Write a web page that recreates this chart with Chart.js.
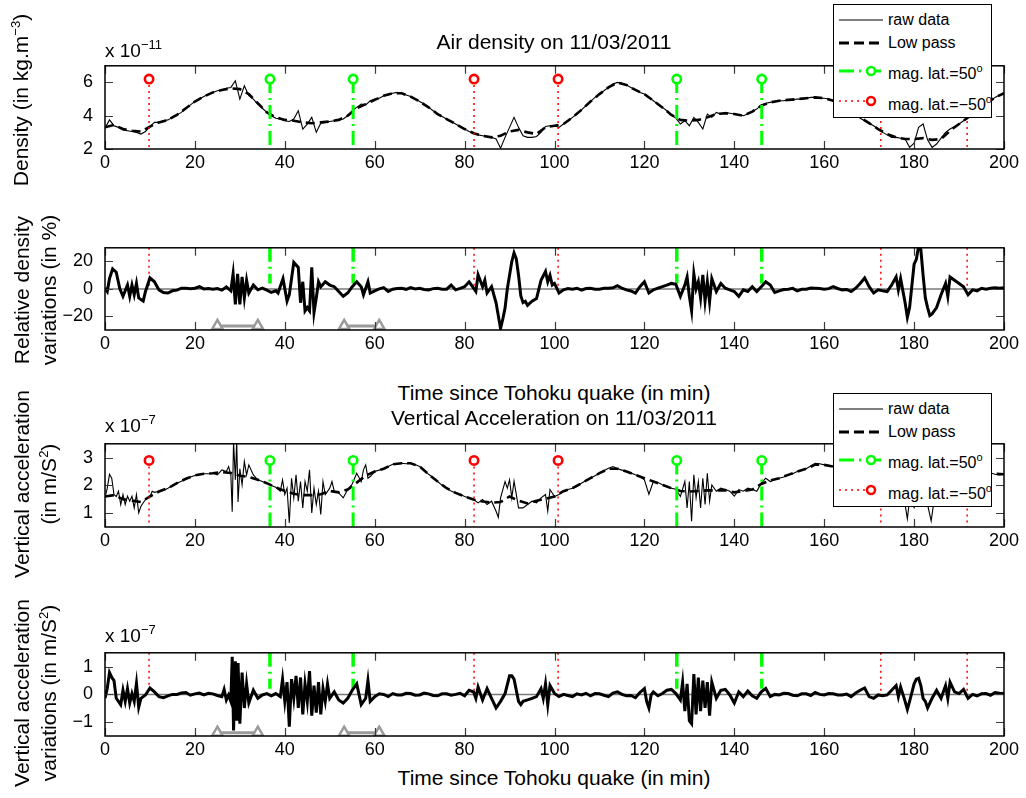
<!DOCTYPE html>
<html><head><meta charset="utf-8">
<script src="https://cdn.jsdelivr.net/npm/chart.js@4.4.1/dist/chart.umd.min.js"></script>
<style>
body{margin:0;width:1026px;height:798px;background:#fff;position:relative;overflow:hidden;font-family:"Liberation Sans",Arial,sans-serif;color:#000;}
canvas{position:absolute;left:0;}
.t{position:absolute;white-space:nowrap;font-size:21px;line-height:24px;transform:translateX(-50%);}
.ex{position:absolute;white-space:nowrap;font-size:19px;line-height:20px;}
.ex sup,.yl sup,.lt sup{font-size:13px;line-height:0;vertical-align:baseline;position:relative;top:-8px;}
.yl{position:absolute;white-space:nowrap;font-size:21px;line-height:27px;text-align:center;transform:translate(-50%,-50%) rotate(-90deg);}
.leg{position:absolute;left:833px;width:159px;height:114px;box-sizing:border-box;border:1.3px solid #000;background:#fff;z-index:5;}
.lt{position:absolute;left:54px;font-size:16px;line-height:18px;white-space:nowrap;}
.lt sup{font-size:11px;top:-7px;}
</style>
</head><body>
<script>
// ---------- data ----------
const minuteTicks = [0,20,40,60,80,100,120,140,160,180,200];
const densityTicks = [2,4,6];
const relDensityTicks = [-20,0,20];
const accelTicks = [1,2,3];
const accelVarTicks = [-1,0,1];

// magnetic latitude crossings (minutes)
const northCross = [36.7,55.2,127.2,146.1];          // mag. lat. = 50°
const southCross = [9.8,82.1,100.8,172.6,191.8];     // mag. lat. = -50°
// grey windows (start, end) in minutes
const windowsMin = [[25,34],[53.2,61]];

// Air density, raw, 1-minute steps from t=0 (x 1e-11 kg/m3)
const densityRaw = [
3.25,3.75,3.4,3.3,3.15,3.1,3.05,3.0,2.9,3.05,
3.35,3.6,3.6,3.7,3.75,3.9,4.05,4.2,4.45,4.65,
4.85,5.0,5.15,5.3,5.4,5.5,5.55,5.65,5.7,6.1,
5.0,5.8,5.2,5.0,4.7,4.45,4.2,4.0,3.85,3.8,
3.7,3.65,3.8,4.3,3.2,3.5,3.9,3.0,3.55,3.6,
3.65,3.7,3.75,3.8,4.0,4.3,4.5,4.7,4.65,4.9,
5.0,5.05,5.2,5.25,5.35,5.4,5.35,5.25,5.15,5.0,
4.85,4.7,4.5,4.3,4.1,3.95,3.8,3.65,3.5,3.35,
3.2,3.05,2.95,2.85,2.8,2.75,2.7,2.6,2.05,2.7,
3.3,3.9,3.3,2.8,2.7,2.7,2.75,3.0,3.35,3.4,
3.4,3.3,3.5,3.7,3.9,4.1,4.35,4.6,4.85,5.1,
5.3,5.5,5.7,5.9,6.0,5.95,5.85,5.7,5.55,5.4,
5.3,5.1,4.9,4.7,4.5,4.3,4.05,3.85,3.5,3.7,
3.4,3.9,3.6,3.2,4.1,3.9,4.2,4.1,4.2,4.15,
4.1,4.05,4.0,4.1,4.25,4.4,4.65,4.75,4.8,4.85,
4.9,4.9,4.95,4.95,5.0,5.0,5.05,5.1,5.1,5.05,
5.05,5.0,4.9,4.8,4.65,4.5,4.3,4.1,3.85,3.7,
3.55,3.4,3.2,3.0,2.85,2.7,2.7,2.65,2.6,2.1,
2.35,3.3,3.5,2.55,2.1,2.3,2.65,3.0,3.2,3.35,
3.5,3.7,3.9,4.1,4.3,4.5,4.7,4.9,5.1,5.25,
5.35];

// Air density, low pass, 2-minute steps from t=0
const densityLow = [
3.3,3.45,3.2,3.1,3.05,3.35,3.6,3.75,4.05,4.45,
4.85,5.15,5.4,5.55,5.65,5.6,5.3,4.75,4.2,3.9,
3.75,3.7,3.6,3.55,3.6,3.65,3.75,4.0,4.45,4.7,
4.95,5.2,5.35,5.35,5.15,4.85,4.5,4.1,3.8,3.5,
3.2,2.95,2.8,2.7,2.8,3.05,3.15,3.0,2.9,3.3,
3.4,3.5,3.9,4.35,4.85,5.3,5.7,6.0,5.85,5.55,
5.3,4.9,4.5,4.05,3.75,3.7,3.75,3.9,4.1,4.15,
4.1,4.0,4.25,4.6,4.8,4.9,4.95,5.0,5.05,5.1,
5.05,4.9,4.65,4.3,3.9,3.55,3.2,2.9,2.7,2.6,
2.6,2.65,2.55,2.6,3.1,3.5,3.9,4.3,4.7,5.1,
5.35];

// Relative density variations (%), [minute, value]
const relDensity = [
[0,0.5],[0.5,-1.9],[1,7.5],[1.7,14.6],[2.5,12.2],[3.3,0],[4,-5.4],[5,2.8],[5.5,-5.4],[6,2.8],
[6.5,-4.2],[7,4],[7.5,-6.6],[8,-7.8],[8.5,-8.9],[9,-1.9],[10,8],[11,5.2],[12,-0.7],[13,-2.6],
[14,-3],[15,-1.4],[16,-0.9],[17,0.5],[18,0.5],[19,0.2],[20,0.5],[21,1.6],[22,0],[23,0.3],
[24,-0.2],[25,0.2],[26,-0.9],[27,1.4],[28,-1.4],[28.5,11],[29,-11.3],[29.5,11],[30,-11.3],[30.5,8.7],
[31,-6.6],[31.5,6.3],[32,-3],[33,2.8],[34,-0.7],[35,0.5],[36,-0.9],[37,-2.6],[38,-1.4],[38.5,-3],
[39.6,7.5],[40.5,-8.9],[41,-4.2],[42,19.3],[43,15.7],[43.5,-10.1],[44,5.2],[44.5,-16],[45,-13.6],[45.5,-16],
[46,15.7],[46.5,-17.2],[47,-6.6],[47.5,5.2],[48,1.6],[49,5.2],[50,2.8],[51,1.6],[52,-1.9],[53,-5.4],
[54,-3],[55,1.6],[56,5.2],[57,1.6],[57.5,-4.2],[58.5,5.2],[59,-3],[60,-1.4],[61,0],[62,0.9],
[63,-1.9],[64,-0.2],[65,0.3],[66,0.5],[67,-0.3],[68,0.9],[69,0],[70,0.5],[71,-0.4],[72,-0.7],
[73,0.2],[74,0.5],[75,-0.3],[76,-0.2],[77,2.8],[78,-0.7],[79,0.4],[80,1.6],[81,5.2],[82,0.5],
[82.5,-1.9],[83,10.3],[84,1.6],[84.5,6.3],[85,-3],[86,1.6],[87,-10.1],[88,-28.9],[88.5,-22],[89,-14],
[89.5,0],[90,10],[90.5,20],[91,26.3],[91.5,22],[92,10],[92.5,-5],[93,-10],[93.5,-9],[94,-12],
[95,-9],[96,-7],[97,6.3],[98,12.7],[98.5,5.2],[99,9.9],[99.5,2.8],[100,4],[101,-3],[102,-0.7],
[103,0.2],[104,-0.2],[105,0.5],[106,-0.9],[107,0.3],[108,0.5],[109,-0.3],[110,-0.2],[111,0.4],[112,0.5],
[113,0.8],[114,2.4],[115,0.5],[116,-0.7],[117,-1.5],[118,-3],[119,1.6],[120,5.2],[121,-3],[122,-0.7],
[123,0.5],[124,1.6],[125,2.8],[126,4],[127,3.3],[128,-5.4],[129,2.8],[129.5,8.7],[130,-5.4],[130.5,-16],
[131,11],[131.5,0],[132,5.2],[132.5,-6.6],[133,10.3],[133.5,-8.9],[134,5.2],[134.5,-9.4],[135,7.5],[136,-1.9],
[137,4],[138,0.5],[139,-0.7],[140,-1.9],[141,-5.4],[142,-0.7],[143,-1.9],[144,1.6],[145,-1.9],[146,1.6],
[147,5.2],[148,2.8],[149,-2.6],[150,-1.4],[151,-0.5],[152,-0.2],[153,0.4],[154,-1.4],[155,-0.3],[156,-0.2],
[157,0.6],[158,0.5],[159,0.3],[160,-0.2],[161,0.2],[162,1.6],[163,0.3],[164,-0.7],[165,-0.4],[166,-1.9],
[167,0.5],[168,4],[169,8],[170,1.6],[171,-3],[172,-0.7],[173,-1.4],[174,-1.9],[175,2.8],[176,8.7],
[176.5,-0.7],[177,7.5],[178,-10.1],[178.5,-20.7],[179,-13.6],[180,18],[180.5,21.6],[181,31],[181.5,28.7],[182,10],
[182.5,-6.6],[183,-13.6],[183.5,-19.5],[184,-18.3],[185,-13.6],[186,-4.2],[187,4],[187.5,-5.4],[188,8.7],[189,6.3],
[190,4],[191,1.6],[192,-4.2],[193,-0.7],[194,-1.4],[195,0.5],[196,-0.2],[197,0.5],[198,0.9],[199,0.5],[200,0.9]];

// Vertical acceleration, raw (x 1e-7 m/s2), [minute, value]
const accelRaw = [
[0,1.55],[0.5,1.9],[1,2.4],[1.5,2.26],[2,1.67],[2.5,1.6],[3,1.79],[3.5,1.31],[4,1.67],[4.5,1.31],
[5,1.61],[5.5,1.43],[6,1.61],[6.5,1.19],[7,1.67],[7.5,1.01],[8,1.25],[9,1.49],[10,1.6],[10.5,1.79],
[11,1.75],[12,1.79],[13,1.82],[14,1.9],[15,2.0],[16,2.08],[17,2.15],[18,2.24],[19,2.3],[20,2.36],
[21,2.4],[22,2.42],[23,2.42],[24,2.44],[25,2.38],[26,2.56],[27,2.5],[27.5,2.68],[28,2.38],[28.3,1.05],
[28.6,3.6],[29,2.2],[29.3,3.6],[29.6,1.4],[30,2.6],[30.5,2.02],[31,2.86],[31.5,2.38],[32,2.74],[33,2.38],
[34,2.2],[35,2.14],[36,2.08],[37,2.0],[38,1.93],[39,1.79],[39.5,2.2],[40,1.67],[40.5,1.9],[41,0.65],
[41.5,2.26],[42,1.55],[42.5,2.38],[43,1.43],[43.5,2.14],[44,1.19],[44.5,2.14],[45,1.79],[45.5,2.56],[46,1.01],
[46.5,1.9],[47,1.31],[47.5,1.79],[48,0.95],[48.5,2.14],[49,1.67],[50,1.9],[50.5,2.14],[51,1.79],[52,1.73],
[53,1.55],[54,1.85],[55,2.05],[56,2.44],[57,2.14],[57.5,2.56],[58,2.74],[58.5,2.26],[59,2.32],[60,2.5],
[61,2.55],[62,2.6],[63,2.68],[64,2.76],[65,2.78],[66,2.8],[67,2.78],[68,2.8],[69,2.75],[70,2.68],
[71,2.55],[72,2.4],[73,2.28],[74,2.14],[75,2.0],[76,1.9],[77,1.8],[78,1.73],[79,1.68],[80,1.6],
[81,1.55],[82,1.49],[83,1.37],[84,1.49],[85,1.31],[86,1.43],[87,1.07],[87.5,0.85],[88,1.55],[89,2.14],
[89.5,1.9],[90,2.2],[90.5,1.55],[91,2.15],[92,1.19],[93,1.19],[94,1.31],[95,1.43],[96,1.37],[97,1.55],
[98,1.67],[98.5,1.07],[99,1.85],[100,1.6],[101,1.67],[102,1.79],[103,1.85],[104,1.9],[105,1.96],[106,2.08],
[107,2.18],[108,2.26],[109,2.35],[110,2.44],[111,2.53],[112,2.62],[113,2.68],[114,2.6],[115,2.55],[116,2.5],
[117,2.45],[118,2.38],[119,2.32],[120,2.2],[121,1.68],[122,2.14],[123,2.1],[124,2.02],[125,1.96],[126,1.9],
[127,1.86],[128,1.6],[129,2.14],[129.5,1.19],[130,2.14],[130.5,0.71],[131,2.38],[131.5,1.55],[132,2.14],[132.5,1.19],
[133,2.26],[133.5,1.31],[134,2.44],[134.5,1.43],[135,2.02],[136,1.79],[137,1.9],[138,1.85],[139,1.79],[140,1.61],
[141,1.85],[142,1.79],[143,1.9],[144,1.85],[145,1.79],[146,2.08],[147,2.26],[148,2.14],[149,2.2],[150,2.26],
[151,2.3],[152,2.38],[153,2.42],[154,2.5],[155,2.55],[156,2.6],[157,2.7],[158,2.8],[159,2.78],[160,2.74],
[161,2.72],[162,2.68],[164,2.7],[166,2.6],[168,2.5],[170,2.3],[172,2.0],[174,1.8],[176,1.6],[177,1.5],
[178,1.3],[178.5,0.8],[179,1.5],[180,1.2],[181,2.0],[182,1.6],[183,1.3],[183.8,0.72],[184.3,1.3],[185,1.6],
[187,2.0],[189,2.2],[191,2.5],[193,2.6],[195,2.55],[197,2.45],[198,2.4],[199,2.38],[200,2.4]];

// Vertical acceleration, low pass, 2-minute steps from t=0
const accelLow = [
1.6,1.65,1.5,1.45,1.4,1.6,1.78,1.9,2.08,2.24,
2.36,2.42,2.44,2.48,2.45,2.35,2.3,2.2,2.08,1.93,
1.8,1.7,1.65,1.65,1.68,1.8,1.75,1.85,2.1,2.35,
2.5,2.6,2.76,2.8,2.8,2.68,2.4,2.14,1.9,1.73,
1.6,1.49,1.42,1.38,1.4,1.6,1.45,1.35,1.45,1.52,
1.6,1.79,1.9,2.08,2.26,2.44,2.6,2.6,2.5,2.38,
2.26,2.14,2.02,1.9,1.8,1.78,1.8,1.82,1.82,1.83,
1.75,1.8,1.85,2.05,2.18,2.26,2.38,2.5,2.6,2.75,
2.74,2.68,2.65,2.58,2.48,2.3,2.05,1.8,1.6,1.45,
1.5,1.55,1.4,1.7,2.1,2.35,2.55,2.58,2.5,2.42,
2.4];

// Vertical acceleration variations (x 1e-7 m/s2), [minute, value]
const accelVar = [
[0,-0.14],[0.5,0.21],[1,0.79],[1.5,0.61],[2,0.5],[2.5,-0.14],[3,-0.25],[3.5,-0.37],[4,0.15],[4.5,-0.25],
[5,0.21],[5.5,-0.31],[6,0.03],[6.5,-0.25],[7,0.4],[7.5,-0.46],[8,-0.14],[9,-0.02],[10,0.23],[11,0.09],
[12,-0.08],[13,-0.12],[14,-0.05],[15,0],[16,0],[17,0.05],[18,0.07],[19,-0.03],[20,0.02],[21,0.05],
[22,-0.02],[23,0.04],[24,0.02],[25,-0.04],[26,-0.08],[26.5,0.18],[27,-0.2],[27.5,-0.02],[28,-0.25],[28.3,1.36],
[28.6,-1.3],[29,1.19],[29.3,-0.95],[29.6,1.13],[30,-1.06],[30.5,0.79],[31,-0.49],[31.5,0.38],[32,-0.31],[33,0.15],
[34,-0.14],[35,-0.02],[36,0.03],[37,-0.05],[38,0.03],[39,-0.08],[39.5,0.55],[40,-0.25],[40.5,0.44],[41,-1.16],
[41.5,0.55],[42,-0.14],[42.5,0.67],[43,-0.49],[43.5,0.61],[44,-0.72],[44.5,0.38],[45,-0.25],[45.5,0.84],[46,-0.77],
[46.5,0.32],[47,-0.66],[47.5,0.44],[48,-0.72],[48.5,0.21],[49,-0.25],[49.5,0.38],[50,-0.14],[51,0.09],[52,-0.2],
[53,-0.31],[54,-0.14],[55,0.15],[56,0.38],[57,-0.37],[58,-0.14],[58.5,0.5],[59,-0.25],[60,-0.08],[61,0.02],
[62,0],[63,-0.08],[64,0.03],[65,-0.02],[66,-0.02],[67,0.04],[68,0.03],[69,-0.03],[70,-0.02],[71,0.05],
[72,0.02],[73,-0.04],[74,-0.05],[75,0.02],[76,0.02],[77,-0.03],[78,0],[79,0.04],[80,-0.05],[81,0.15],
[82,0.09],[82.5,-0.14],[83,0.27],[84,-0.2],[85,0.21],[86,-0.14],[87,-0.49],[88,-0.25],[89,0.03],[90,0.67],
[90.5,0.67],[91,0.55],[92,-0.25],[92.5,-0.37],[93,-0.25],[94,-0.2],[95,-0.14],[96,-0.08],[97,0.21],[97.5,-0.14],
[98,0.38],[98.5,-0.37],[99,0.32],[100,0.03],[101,-0.08],[102,0],[103,-0.04],[104,-0.08],[105,0.02],[106,-0.02],
[107,0.04],[108,-0.05],[109,0.03],[110,0.02],[111,-0.03],[112,-0.08],[113,0.05],[114,0.09],[115,0],[116,-0.05],
[117,-0.04],[118,-0.12],[119,0.07],[120,0.21],[120.5,-0.25],[121,-0.49],[121.5,-0.02],[122,0.09],[123,-0.05],[124,0.03],
[125,0.15],[126,0.18],[127,0.03],[128,-0.2],[128.5,0.44],[129,-0.6],[129.5,0.38],[130,-0.95],[130.5,-1.06],[131,0.73],
[131.5,-0.72],[132,0.61],[132.5,-0.6],[133,0.5],[133.5,-0.49],[134,0.44],[134.5,-0.77],[135,0.44],[136,-0.14],[137,0.15],
[138,0.18],[139,-0.02],[140,-0.31],[141,0.09],[142,-0.08],[143,0.12],[144,-0.05],[145,-0.14],[146,0.09],[147,0.21],
[148,-0.08],[149,0],[150,-0.02],[151,0.04],[152,0.03],[153,-0.03],[154,-0.05],[155,0.02],[156,0.02],[157,-0.04],
[158,0.07],[159,0],[160,-0.02],[161,0.03],[162,0.02],[163,-0.02],[164,-0.02],[165,0.01],[166,-0.08],[167,0.05],
[168,0.15],[169,0.23],[170,-0.08],[171,-0.14],[172,-0.02],[173,-0.05],[174,-0.02],[175,0.15],[176,0.32],[176.5,-0.08],
[177,0.27],[178,-0.25],[178.5,-0.54],[179,-0.25],[180,0.38],[180.5,0.55],[181,0.58],[181.5,0.32],[182,-0.14],[182.5,-0.25],
[183,-0.49],[184,-0.14],[185,0.15],[186,-0.14],[187,0.32],[187.5,-0.14],[188,0.44],[189,0.09],[190,0.03],[191,0.18],
[192,-0.14],[193,0],[194,-0.05],[195,0.02],[196,0.03],[197,-0.03],[198,0.07],[199,0.04],[200,0.03]];

// ---------- helpers ----------
const FONT = "'Liberation Sans', Arial, Helvetica, sans-serif";
const RED = '#ff0000', GREEN = '#00ff00', GREY = '#9a9a9a';
const pairs = a => a.map(p => ({x:p[0], y:p[1]}));
const stepped = (a, step) => a.map((v,i) => ({x:i*step, y:v}));
function vlines(times, yTop, yBot){
  const out = [];
  times.forEach(t => { out.push({x:t,y:yTop},{x:t,y:yBot},{x:t,y:null}); });
  return out;
}
function markers(times, y){ return times.map(t => ({x:t, y:y})); }
function windowPts(wins, y){
  const out = [];
  wins.forEach(w => { out.push({x:w[0],y:y},{x:w[1],y:y},{x:w[1],y:null}); });
  return out;
}

const framePlugin = {
  id:'frame',
  afterDatasetsDraw(chart){
    const {ctx, chartArea:a, scales:{x, y}} = chart;
    const L = 8;
    ctx.save();
    ctx.strokeStyle = '#3a3a3a'; ctx.lineWidth = 1.2;
    ctx.beginPath();
    x.ticks.forEach(t => { const p = Math.round(x.getPixelForValue(t.value))+0.5;
      ctx.moveTo(p,a.bottom); ctx.lineTo(p,a.bottom-L); ctx.moveTo(p,a.top); ctx.lineTo(p,a.top+L); });
    y.ticks.forEach(t => { const p = Math.round(y.getPixelForValue(t.value))+0.5;
      ctx.moveTo(a.left,p); ctx.lineTo(a.left+L,p); ctx.moveTo(a.right,p); ctx.lineTo(a.right-L,p); });
    ctx.stroke();
    ctx.strokeStyle = '#000'; ctx.lineWidth = 1.5;
    ctx.strokeRect(a.left, a.top, a.right-a.left, a.bottom-a.top);
    ctx.restore();
  }
};

function makePanel(top, plotH, yMin, yMax, yTicks, datasets){
  const PT = 20, XH = 30;
  const cv = document.createElement('canvas');
  cv.width = 1026; cv.height = PT + plotH + XH;
  cv.style.top = (top - PT) + 'px';
  document.body.appendChild(cv);
  new Chart(cv, {
    type:'line',
    data:{datasets},
    plugins:[framePlugin],
    options:{
      responsive:false, animation:false, events:[],
      parsing:true, normalized:true,
      layout:{padding:{top:PT, right:22, left:0, bottom:0}},
      plugins:{legend:{display:false}, tooltip:{enabled:false}},
      elements:{line:{tension:0}, point:{radius:0}},
      scales:{
        x:{type:'linear', min:0, max:200,
          afterBuildTicks: s => { s.ticks = minuteTicks.map(v => ({value:v})); },
          afterFit: s => { s.height = XH; },
          grid:{display:false, drawTicks:false}, border:{display:false},
          ticks:{padding:3, color:'#000', font:{family:FONT, size:18}, maxRotation:0, autoSkip:false}},
        y:{type:'linear', min:yMin, max:yMax,
          afterBuildTicks: s => { s.ticks = yTicks.map(v => ({value:v})); },
          afterFit: s => { s.width = 105; },
          grid:{display:false, drawTicks:false}, border:{display:false},
          ticks:{padding:12, color:'#000', font:{family:FONT, size:18}, callback: v => String(v).replace('-', '\u2212')}}
      }
    }
  });
}

function passDatasets(markY, yBot){
  return [
    {data:markers(southCross, markY), showLine:false, pointRadius:4.2, pointBorderWidth:2.6, pointBorderColor:RED, pointBackgroundColor:'#fff'},
    {data:markers(northCross, markY), showLine:false, pointRadius:4.2, pointBorderWidth:2.6, pointBorderColor:GREEN, pointBackgroundColor:'#fff'},
    {data:vlines(southCross, markY, yBot), borderColor:RED, borderWidth:1.5, borderDash:[2,4], spanGaps:false},
    {data:vlines(northCross, markY, yBot), borderColor:GREEN, borderWidth:3, borderDash:[14,5,2,5], spanGaps:false}
  ];
}

// Panel 1: density
makePanel(63, 86, 2, 7, densityTicks, [
  ...passDatasets(6.2, 2),
  {data:stepped(densityLow, 2), borderColor:'#000', borderWidth:2.6, borderDash:[9,5]},
  {data:stepped(densityRaw, 1), borderColor:'#000', borderWidth:1.1}
]);

// Panel 2: relative density variations
makePanel(245, 85, -30, 30, relDensityTicks, [
  {data:windowPts(windowsMin, -27), borderColor:GREY, borderWidth:3, spanGaps:false,
   pointStyle:'triangle', pointRadius:6, pointBorderWidth:2.5, pointBorderColor:GREY, pointBackgroundColor:'#fff'},
  {data:pairs(relDensity), borderColor:'#000', borderWidth:3},
  {data:vlines(southCross, 30, 0), borderColor:RED, borderWidth:1.5, borderDash:[2,4], spanGaps:false},
  {data:vlines(northCross, 30, 4), borderColor:GREEN, borderWidth:3.5, borderDash:[14,5,2,5], spanGaps:false},
  {data:[{x:0,y:0},{x:200,y:0}], borderColor:'#7a7a7a', borderWidth:1.5}
]);

// Panel 3: vertical acceleration
makePanel(441, 86, 0.5, 3.5, accelTicks, [
  ...passDatasets(2.9, 0.5),
  {data:stepped(accelLow, 2), borderColor:'#000', borderWidth:2.6, borderDash:[9,5]},
  {data:pairs(accelRaw), borderColor:'#000', borderWidth:1.1}
]);

// Panel 4: vertical acceleration variations
makePanel(650, 86, -1.5, 1.5, accelVarTicks, [
  {data:windowPts(windowsMin, -1.38), borderColor:GREY, borderWidth:3, spanGaps:false,
   pointStyle:'triangle', pointRadius:6, pointBorderWidth:2.5, pointBorderColor:GREY, pointBackgroundColor:'#fff'},
  {data:pairs(accelVar), borderColor:'#000', borderWidth:3},
  {data:vlines(southCross, 1.5, 0), borderColor:RED, borderWidth:1.5, borderDash:[2,4], spanGaps:false},
  {data:vlines(northCross, 1.5, 0.2), borderColor:GREEN, borderWidth:3.5, borderDash:[14,5,2,5], spanGaps:false},
  {data:[{x:0,y:0},{x:200,y:0}], borderColor:'#7a7a7a', borderWidth:1.5}
]);

// ---------- texts ----------
function addText(html, cls, style){
  const d = document.createElement('div');
  d.className = cls; d.innerHTML = html; d.setAttribute('style', style);
  document.body.appendChild(d);
}
addText('Air density on 11/03/2011', 't', 'left:554px;top:30px');
addText('Time since Tohoku quake (in min)', 't', 'left:554px;top:381px');
addText('Vertical Acceleration on 11/03/2011', 't', 'left:554px;top:406px');
addText('Time since Tohoku quake (in min)', 't', 'left:554px;top:766px');
addText('x 10<sup>\u221211</sup>', 'ex', 'left:105px;top:41px');
addText('x 10<sup>\u22127</sup>', 'ex', 'left:105px;top:416px');
addText('x 10<sup>\u22127</sup>', 'ex', 'left:105px;top:626px');
addText('Density (in kg.m<sup>\u22123</sup>)', 'yl', 'left:20px;top:100px');
addText('Relative density<br>variations (in %)', 'yl', 'left:35px;top:290px');
addText('Vertical acceleration<br>(in m/S<sup>2</sup>)', 'yl', 'left:35px;top:484px');
addText('Vertical acceleration<br>variations (in m/S<sup>2</sup>)', 'yl', 'left:35px;top:693px');

function addLegend(top){
  const d = document.createElement('div');
  d.className = 'leg'; d.style.top = top + 'px';
  d.innerHTML =
   '<svg width="157" height="112" style="position:absolute;left:0;top:0">' +
   '<line x1="5" y1="15" x2="49" y2="15" stroke="#000" stroke-width="1.2"/>' +
   '<line x1="5" y1="38" x2="49" y2="38" stroke="#000" stroke-width="3" stroke-dasharray="10 5"/>' +
   '<line x1="5" y1="66" x2="49" y2="66" stroke="#00ff00" stroke-width="3" stroke-dasharray="15 5 2 5"/>' +
   '<circle cx="37" cy="66" r="4" fill="#fff" stroke="#00ff00" stroke-width="2.5"/>' +
   '<line x1="5" y1="96" x2="32" y2="96" stroke="#ff0000" stroke-width="1.5" stroke-dasharray="2 4"/>' +
   '<circle cx="37" cy="96" r="4" fill="#fff" stroke="#ff0000" stroke-width="2.5"/>' +
   '</svg>' +
   '<span class="lt" style="top:5.5px">raw data</span>' +
   '<span class="lt" style="top:28.5px">Low pass</span>' +
   '<span class="lt" style="top:59.5px">mag. lat.=50<sup>o</sup></span>' +
   '<span class="lt" style="top:90.5px">mag. lat.=\u221250<sup>o</sup></span>';
  document.body.appendChild(d);
}
addLegend(4);
addLegend(393);
</script>
</body></html>
